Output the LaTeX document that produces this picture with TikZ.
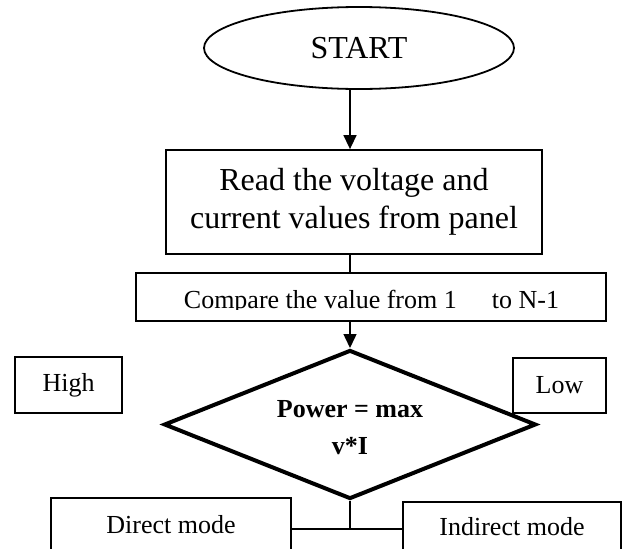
\documentclass[tikz,border=0pt]{standalone}
\usepackage{fontspec}
\setmainfont{Liberation Serif}
\usetikzlibrary{arrows.meta,shapes.geometric}

\begin{document}
\begin{tikzpicture}[x=1pt, y=-1pt, >={Triangle[width=13pt,length=14pt]},
    bigtext/.style={font=\fontsize{32}{38}\selectfont},
    smalltext/.style={font=\fontsize{26}{31}\selectfont},
    box/.style={draw, line width=1.8pt, inner sep=0pt, align=center},
    flow/.style={line width=1.5pt}]

    % Page frame
    \useasboundingbox (0,0) rectangle (624,549);
    \clip (0,0) rectangle (624,549);

    % Start
    \node[draw, ellipse, line width=1.8pt, minimum width=310pt, minimum height=82pt, bigtext] (start) at (359,48) {START};

    % Read the panel
    \node[box, bigtext, minimum width=376pt, minimum height=104pt] (read) at (354,202) {Read the voltage and\\current values from panel};

    % Compare step, its text cut at the bottom
    \node[box, minimum width=470pt, minimum height=48pt] (compare) at (371,297) {};
    \begin{scope}
        \clip (compare.north west) rectangle (606,309.5);
        \node[smalltext, anchor=base] (comparetext) at (371.5,308) {Compare the value from 1\hspace{1.35em}to N-1};
    \end{scope}

    % Decision
    \node[draw, diamond, aspect=2.5, line width=4pt, minimum width=372pt, minimum height=149pt, inner sep=0pt,
          align=center, text height=61pt, font=\fontsize{26}{37}\selectfont\bfseries] (decide) at (350,424.5) {Power = max\\v*I};

    % Side labels
    \node[box, smalltext, minimum width=107pt, minimum height=56pt] (high) at (68.5,385) {High};
    \node[box, smalltext, minimum width=93pt, minimum height=55pt] (low) at (559.5,385.5) {Low};

    % Modes, cut by the page bottom
    \node[box, smalltext, minimum width=240pt, minimum height=54pt] (direct) at (171,525) {Direct mode};
    \node[box, smalltext, minimum width=218pt, minimum height=50pt] (indirect) at (512,527) {Indirect mode};

    % Connectors
    \coordinate (spine) at (350,0);
    \coordinate (join) at (350,529);
    \draw[flow, ->] (start.south -| spine) -- (read.north -| spine);
    \draw[flow] (read.south -| spine) -- (compare.north -| spine);
    \draw[flow, ->] (compare.south -| spine) -- (decide.north);
    \draw[flow] (decide.south) -- (join);
    \draw[flow] (direct.east |- join) -- (indirect.west |- join);

\end{tikzpicture}
\end{document}
